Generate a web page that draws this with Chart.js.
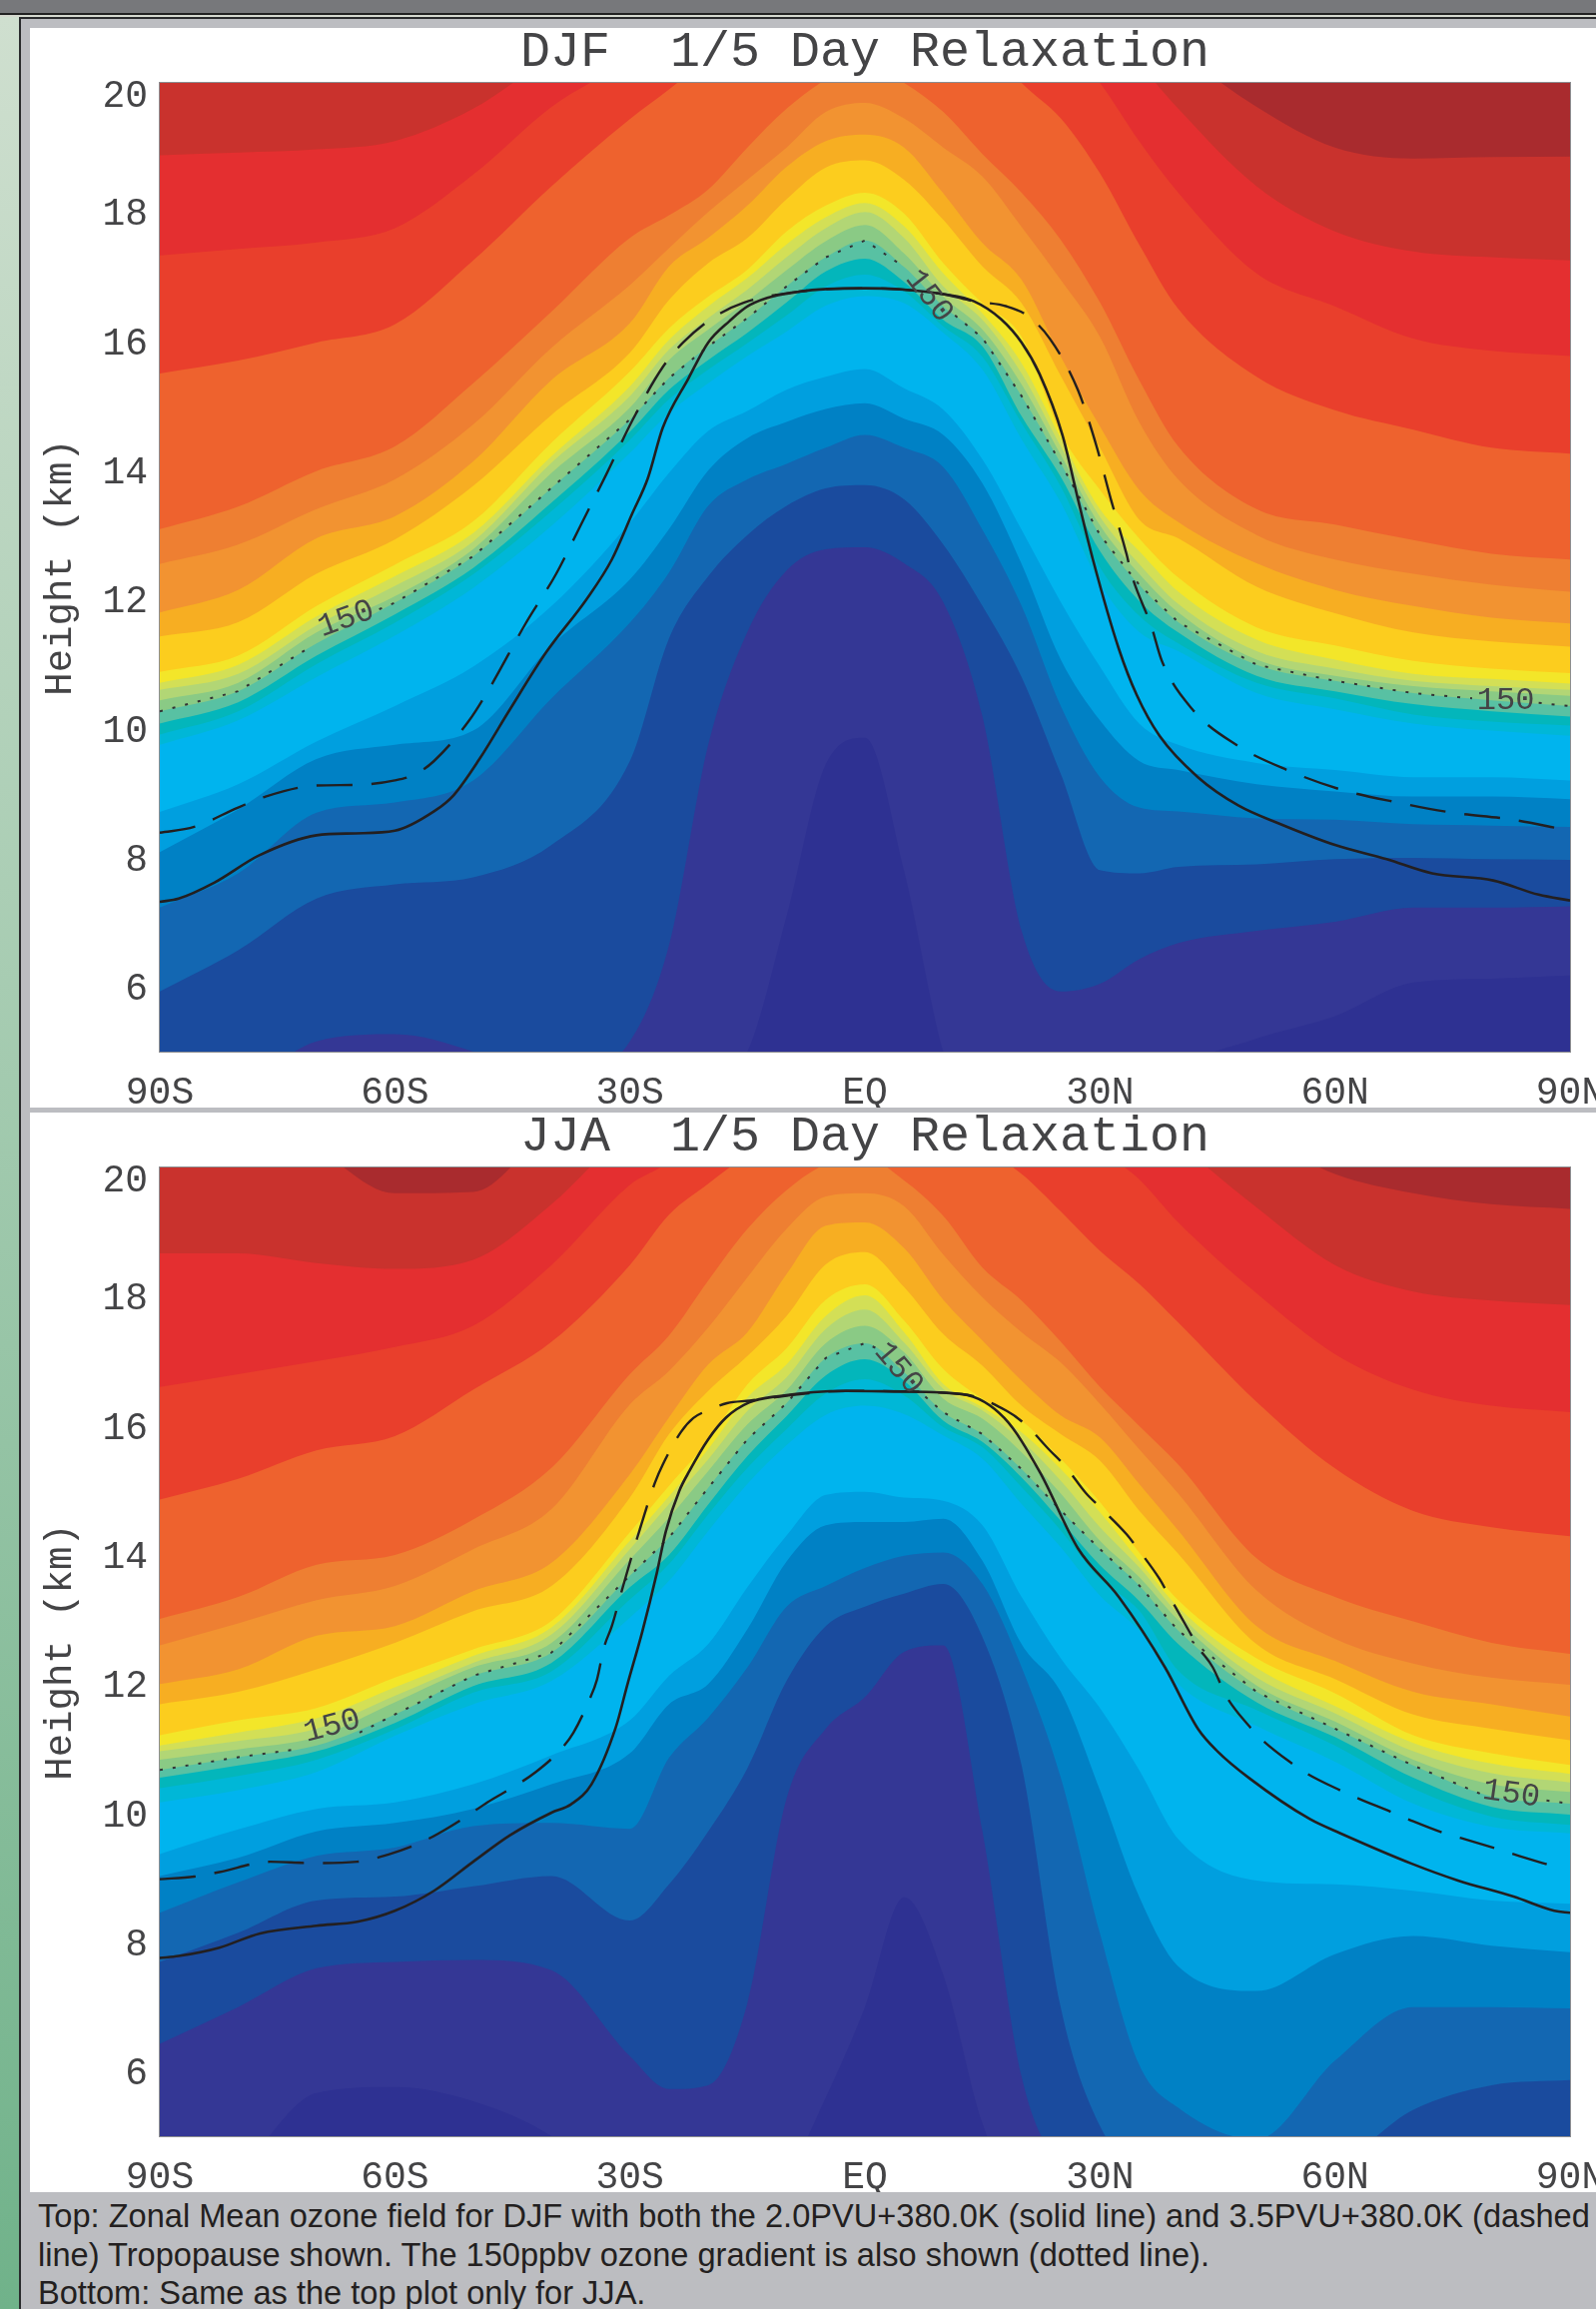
<!DOCTYPE html>
<html><head><meta charset="utf-8">
<script src="https://cdn.jsdelivr.net/npm/chart.js@4"></script>
<style>
html,body{margin:0;padding:0;width:1598px;height:2312px;overflow:hidden;background:#bcbdc1;}
#bar{position:absolute;left:0;top:0;width:1598px;height:13px;background:#77787b;}
#l1{position:absolute;left:0;top:13px;width:1598px;height:2px;background:#222;}
#l2{position:absolute;left:0;top:15px;width:1598px;height:2px;background:#d5d9cf;}
#l3{position:absolute;left:0;top:17px;width:1598px;height:2px;background:#2a2b2d;}
#strip{position:absolute;left:0;top:17px;width:19px;height:2295px;background:linear-gradient(#cfdfcf,#70b28a);}
#sl{position:absolute;left:19px;top:17px;width:2px;height:2295px;background:#2a2b2d;}
.panel{position:absolute;left:30px;width:1568px;background:#fff;}
canvas{position:absolute;left:0;}
.cap{position:absolute;left:38px;white-space:nowrap;font:32.6px "Liberation Sans",Arial,sans-serif;color:#231f20;}
</style></head><body>
<div id="bar"></div><div id="l1"></div><div id="l2"></div><div id="l3"></div><div id="strip"></div><div id="sl"></div>
<div class="panel" style="top:28px;height:1081px"></div>
<div class="panel" style="top:1114px;height:1081px"></div>
<canvas id="djf" width="1732" height="1081" style="top:28px"></canvas>
<canvas id="jja" width="1732" height="1081" style="top:1114px"></canvas>
<div class="cap" style="top:2200px">Top: Zonal Mean ozone field for DJF with both the 2.0PVU+380.0K (solid line) and 3.5PVU+380.0K (dashed</div>
<div class="cap" style="top:2239px">line) Tropopause shown. The 150ppbv ozone gradient is also shown (dotted line).</div>
<div class="cap" style="top:2277px">Bottom: Same as the top plot only for JJA.</div>
<script>
const lats=[-90,-80,-70,-60,-50,-40,-30,-25,-20,-15,-10,-5,0,5,10,15,20,25,30,35,40,50,60,70,80,90];
const xTickLabels={'-90':'90S','-60':'60S','-30':'30S','0':'EQ','30':'30N','60':'60N','90':'90N'};
const bandColors=['#2e3192','#343795','#1a4b9e','#1367b2','#0081c5','#009fdf','#00b4ee','#00b7d7','#03b6bb','#58c1a3','#8aca85','#b2d675','#d3df56','#f3e629','#fccd1e','#f7ae22','#f29331','#ee7f32','#ee622e','#e93f2c','#e42f30','#c9322d','#a92b2e'];

/* DJF: height (km) of the lower edge of each colour band, at each latitude */
const djf00=[4,4,4,4,4,4,4,4,4,4,4,4,4,4,4,4,4,4,4,4,4,4,4,4,4,4];
const djf01=[4,4,4,4,4,4,4,4,4.5,5,7.1,9.45,9.86,7.8,5,3.5,3.5,3.5,3.5,4,4.7,5.2,5.55,6.07,6.13,6.18];
const djf02=[4,4.4,5.16,5.27,5.0,4.5,5.16,6.65,9.75,11.5,12.45,12.78,12.81,12.56,11.96,10.19,6.87,5.93,6.05,6.43,6.68,6.87,7.01,7.23,7.23,7.25];
const djf03=[5.93,6.57,7.37,7.59,7.7,8.2,9.5,11.4,12.36,13.0,13.45,13.72,13.77,13.55,12.85,11.9,10.8,9.3,7.81,7.76,7.86,7.9,7.98,8.0,7.98,7.97];
const djf04=[7.23,7.76,8.7,8.86,9.2,10.47,11.64,12.42,13.45,13.86,14.1,14.35,14.55,14.35,14.05,13.08,11.9,10.35,9.25,8.78,8.72,8.61,8.59,8.52,8.5,8.48];
const djf05=[8.09,8.75,9.53,9.75,9.97,11.29,12.31,13.09,14.0,14.5,14.75,14.95,15.04,14.8,14.55,13.8,12.55,11.07,10.13,9.5,9.36,9.14,9.03,8.95,8.95,8.91];
const djf06=[8.71,9.14,9.8,10.35,10.96,11.9,13.19,13.96,14.61,14.92,15.25,15.45,15.57,15.27,14.94,14.17,13.08,11.96,10.96,10.08,9.75,9.47,9.36,9.25,9.25,9.2];
const djf07=[9.75,10.13,10.8,11.44,12.18,13.14,14.27,14.89,15.35,15.77,16.15,16.55,16.7,16.59,16.13,15.56,14.48,13.5,12.25,11.5,11.2,10.55,10.3,10.08,9.97,9.89];
const djf08=[9.91,10.27,11.0,11.64,12.39,13.37,14.47,15.1,15.56,15.97,16.4,16.85,17.03,16.77,16.23,15.76,14.73,13.75,12.5,11.75,11.32,10.71,10.47,10.22,10.11,10.05];
const djf09=[10.08,10.41,11.13,11.77,12.49,13.5,14.6,15.25,15.71,16.13,16.6,17.08,17.28,16.92,16.33,15.92,14.84,13.9,12.75,11.98,11.49,10.82,10.58,10.38,10.27,10.19];
const djf10=[10.27,10.58,11.32,11.95,12.67,13.73,14.79,15.43,15.92,16.36,16.85,17.3,17.56,17.15,16.54,16.05,15.15,14.11,13.0,12.23,11.65,10.99,10.74,10.55,10.44,10.35];
const djf11=[10.44,10.71,11.49,12.05,12.78,13.96,14.97,15.71,16.18,16.62,17.1,17.55,17.8,17.36,16.69,16.18,15.33,14.24,13.15,12.4,11.8,11.07,10.82,10.66,10.58,10.51];
const djf12=[10.6,10.85,11.6,12.21,12.9,14.12,15.15,15.87,16.36,16.8,17.3,17.75,18.0,17.6,16.85,16.33,15.5,14.37,13.28,12.55,11.93,11.2,10.93,10.74,10.66,10.6];
const djf13=[10.71,10.99,11.74,12.36,13.03,14.22,15.3,16.02,16.54,16.98,17.5,17.92,18.14,17.78,17.05,16.43,15.66,14.5,13.4,12.75,12.12,11.38,11.07,10.85,10.77,10.7];
const djf14=[10.88,11.13,11.9,12.54,13.21,14.43,15.53,16.2,16.69,17.11,17.7,18.1,18.3,17.98,17.21,16.59,16.07,14.58,13.7,12.95,12.34,11.57,11.29,11.05,10.93,10.86];
const djf15=[11.43,11.65,12.4,12.93,13.76,14.86,15.82,16.64,17.21,17.6,18.2,18.69,18.8,18.5,17.88,17.16,16.59,15.46,14.35,13.24,12.95,12.2,11.79,11.49,11.35,11.27];
const djf16=[11.8,12.15,12.95,13.29,14.14,15.4,16.28,17.16,17.6,18.1,18.7,19.1,19.2,19.0,18.29,17.52,16.95,15.76,14.68,13.7,13.2,12.56,12.15,11.9,11.72,11.63];
const djf17=[12.55,12.85,13.4,13.86,14.71,15.9,16.87,17.44,18.0,18.5,19.0,19.55,19.69,19.45,19.0,18.55,17.77,16.95,16.07,14.75,13.86,13.0,12.62,12.4,12.23,12.12];
const djf18=[13.09,13.44,13.99,14.37,15.35,16.46,17.6,17.95,18.35,19.0,19.6,20.05,20.3,20.0,19.55,18.9,18.3,17.57,16.6,15.4,14.37,13.4,13.16,12.92,12.71,12.62];
const djf19=[15.5,15.7,15.98,16.26,17.25,18.4,19.44,19.9,20.4,21,21.5,22,22,21.5,21.2,20.7,20,19.45,18.6,17.5,16.5,15.45,14.93,14.63,14.35,14.26];
const djf20=[17.33,17.43,17.53,17.75,18.58,19.63,20.4,21,22,22,22,22,22,22,22,22,21.5,20.7,20,19.1,18.3,17.05,16.54,16.04,15.85,15.77];
const djf21=[18.88,18.92,18.97,19.1,19.6,20.4,21,22,22,22,22,22,22,22,22,22,22,22,21,20.3,19.6,18.4,17.7,17.39,17.3,17.25];
const djf22=[21,21,21,21,21,21,22,22,22,22,22,22,22,22,22,22,22,22,22,21,20.5,19.63,19.0,18.83,18.85,18.86];
const djfBands=[djf00,djf01,djf02,djf03,djf04,djf05,djf06,djf07,djf08,djf09,djf10,djf11,djf12,djf13,djf14,djf15,djf16,djf17,djf18,djf19,djf20,djf21,djf22];

const djfSolidLat=[-90,-87.6,-83,-77.3,-70,-65,-60,-55,-52.5,-49.2,-45.3,-40.7,-35.5,-32.3,-29.7,-27.7,-25.8,-22.5,-20,-17.3,-14.7,-8.3,0,5,10,13.9,17.4,20,22.3,25.2,27.2,29.1,32.4,34.7,37.6,42.5,47.7,52.9,60,66.6,72.4,80.2,86,90];
const djfSolidH=[7.32,7.37,7.62,8.04,8.35,8.38,8.42,8.72,8.97,9.53,10.3,11.18,12.01,12.62,13.33,13.88,14.66,15.43,15.98,16.31,16.56,16.77,16.82,16.8,16.73,16.62,16.34,15.98,15.49,14.55,13.55,12.62,11.24,10.52,9.89,9.25,8.81,8.53,8.2,7.98,7.76,7.65,7.43,7.34];
const djfDashLat=[-90,-85.6,-80,-76.5,-70,-64.8,-60,-57.3,-55,-50.5,-47.9,-43.3,-39.4,-36.2,-33,-29.7,-25.8,-23.2,-19.3,-15.4,-8.3,0,10,13.9,18.1,20.7,23.6,27.2,29.5,31.4,33.4,34,36.6,37.9,41.8,47.4,53.9,60.7,67.9,75,82.2,89.3];
const djfDashH=[8.39,8.48,8.78,8.95,9.12,9.13,9.2,9.3,9.5,10.13,10.63,11.63,12.4,13.17,13.94,14.77,15.6,15.98,16.37,16.6,16.77,16.82,16.73,16.62,16.54,16.4,16.04,15.24,14.4,13.55,12.7,12.4,11.57,11.05,10.3,9.75,9.36,9.06,8.86,8.7,8.6,8.44];
const djfDotLat=[-90,-80,-71,-66,-62,-60,-50,-40,-30,-25,-20,-15,-10,-5,0,5,8,11.5,15,20,25,30,35,40,50,60,70,77.5,82,86,90];
const djfDotH=[10.27,10.58,11.25,null,11.85,11.95,12.67,13.73,14.79,15.43,15.92,16.36,16.85,17.3,17.56,17.15,null,16.4,16.05,15.15,14.11,13.0,12.23,11.65,10.99,10.74,10.55,10.47,null,10.4,10.35];
const djfLabelLat=[-66.2,8.2,81.8];
const djfLabelH=[11.7,16.7,10.44];
const djfLabelAngle=[-20,52,0];

/* JJA */
const jja00=[4,4,4,4,4,4,4,4,4,4,4,4,4,4,4,4,4,4,4,4,4,4,4,4,4,4];
const jja01=[4,4.5,5.67,5.76,5.54,5.0,4,4,4,4,4.4,5.6,7.0,8.7,7.5,5.2,4,4,4,4,4,4,4,4,4,4];
const jja02=[6.43,7.0,7.6,7.7,7.73,7.57,6.24,5.73,5.79,7.06,10.23,11.31,11.8,12.5,12.6,9.72,5.92,4.5,4,4,4,4,4,4,4,4];
const jja03=[7.7,8.15,8.65,8.71,8.87,9.03,8.34,8.9,9.72,10.7,12.05,12.9,13.2,13.4,13.55,12.73,10.74,6.99,5.16,4.5,4.5,4.5,4.6,5.41,5.79,5.87];
const jja04=[8.46,8.93,9.34,9.47,9.8,9.85,9.76,10.86,11.48,12.26,13.2,13.52,13.8,13.99,14.04,13.55,12.26,10.55,8.14,6.11,5.44,4.95,6.17,7.0,7.0,6.98];
const jja05=[9.03,9.31,9.72,9.85,10.07,10.45,10.93,11.69,12.0,12.85,13.9,14.46,14.51,14.51,14.56,13.91,12.62,11.88,10.36,8.71,7.63,7.25,7.82,8.1,7.95,7.85];
const jja06=[9.37,9.75,10.07,10.17,10.45,10.9,11.44,12.13,12.62,13.5,14.3,14.93,14.98,14.89,14.84,14.46,13.35,12.4,11.63,10.67,9.6,8.96,8.9,8.8,8.65,8.6];
const jja07=[10.17,10.36,10.64,11.2,11.69,12.05,13.03,13.6,14.37,15.1,15.7,16.17,16.31,16.18,15.85,15.49,14.79,14.12,13.37,12.83,12.0,11.35,10.8,10.15,9.79,9.69];
const jja08=[10.39,10.58,10.83,11.3,11.87,12.2,13.31,13.86,14.63,15.35,15.95,16.5,16.72,16.47,15.98,15.67,15.05,14.38,13.63,13.14,12.21,11.6,11.05,10.38,9.95,9.82];
const jja09=[10.55,10.74,10.96,11.4,11.97,12.33,13.5,14.0,14.78,15.53,16.15,16.78,17.03,16.7,16.08,15.75,15.2,14.53,13.84,13.29,12.62,11.72,11.18,10.55,10.1,9.98];
const jja10=[10.67,10.87,11.05,11.53,12.13,12.49,13.68,14.27,15.04,15.79,16.35,17.05,17.28,16.83,16.21,15.87,15.33,14.69,14.09,13.53,12.83,11.88,11.31,10.74,10.26,10.15];
const jja11=[10.83,10.99,11.18,11.72,12.26,12.64,13.93,14.58,15.3,16.02,16.55,17.28,17.55,17.14,16.42,16.11,15.59,14.95,14.22,13.66,12.99,11.98,11.42,10.83,10.45,10.33];
const jja12=[10.96,11.12,11.31,11.82,12.33,12.77,14.09,14.79,15.48,16.23,16.75,17.5,17.8,17.29,16.57,16.24,15.77,15.15,14.43,13.81,13.09,12.1,11.55,10.96,10.62,10.48];
const jja13=[11.05,11.25,11.47,11.95,12.44,12.88,14.22,14.91,15.64,16.44,16.95,17.7,18.02,17.45,16.65,16.29,15.9,15.33,14.66,13.91,13.19,12.25,11.66,11.09,10.77,10.61];
const jja14=[11.21,11.44,11.63,12.1,12.54,12.98,14.35,15.07,15.77,16.64,17.2,17.95,18.19,17.63,16.88,16.42,16.08,15.49,14.82,14.04,13.3,12.4,11.86,11.21,10.93,10.75];
const jja15=[11.69,11.88,12.23,12.64,13.13,13.52,14.89,15.87,16.54,17.08,17.7,18.5,18.69,18.15,17.42,16.93,16.31,15.87,15.46,14.69,14.02,12.62,12.08,11.53,11.31,11.13];
const jja16=[12.0,12.23,12.75,12.9,13.44,13.88,15.25,16.13,16.95,17.45,18.35,19.1,19.15,18.75,17.95,17.32,16.7,16.16,15.82,15.1,14.38,12.9,12.36,11.88,11.69,11.5];
const jja17=[12.6,12.94,13.3,13.52,14.09,14.71,16.33,16.85,17.52,18.3,19.05,19.55,19.6,19.4,18.65,17.99,17.45,16.98,16.34,15.64,14.95,13.45,12.7,12.32,12.1,11.99];
const jja18=[13.01,13.35,13.85,14.0,14.55,15.35,16.8,17.4,18.25,19.05,19.65,20.05,20.15,19.8,19.25,18.45,17.94,17.3,16.6,16.0,15.4,13.95,13.35,12.97,12.64,12.47];
const jja19=[14.86,15.18,15.62,15.84,16.56,17.3,18.49,19.27,19.75,20.2,20.6,21,21,21,20.6,20.3,19.9,19.32,18.71,18.2,17.6,16.37,15.34,14.68,14.43,14.29];
const jja20=[16.6,16.8,17.0,17.22,17.55,18.49,19.73,20.1,20.8,21,21,21,21,21,21,21,21,21,20.3,19.82,19.15,18.05,17.11,16.56,16.31,16.21];
const jja21=[18.67,18.67,18.52,18.43,18.57,19.43,20.6,21,21,21,21,21,21,21,21,21,21,21,21,21,20.4,19.38,18.49,18.08,17.94,17.87];
const jja22=[21,21,20.3,19.6,19.62,20.6,21,21,21,21,21,21,21,21,21,21,21,21,21,21,21,20.5,19.9,19.6,19.43,19.36];
const jjaBands=[jja00,jja01,jja02,jja03,jja04,jja05,jja06,jja07,jja08,jja09,jja10,jja11,jja12,jja13,jja14,jja15,jja16,jja17,jja18,jja19,jja20,jja21,jja22];

const jjaSolidLat=[-90,-87.6,-82.4,-77.2,-70,-64.8,-60,-55,-50,-45.3,-40,-37.5,-34.9,-31.8,-30.3,-28.4,-26.6,-25.4,-23.7,-22.4,-20,-17.7,-14.8,-11,-2.4,4.7,12.4,17.8,22.3,27.2,32.4,38.3,42.5,45,49,56.8,60.7,69.8,75.7,82.8,88,90];
const jjaSolidH=[7.76,7.79,7.92,8.14,8.26,8.32,8.49,8.8,9.25,9.66,10.01,10.14,10.45,11.33,12.0,12.82,13.7,14.37,14.99,15.3,15.79,16.13,16.36,16.46,16.54,16.53,16.49,16.12,15.29,14.1,13.35,12.26,11.31,10.96,10.55,9.91,9.69,9.22,8.96,8.71,8.49,8.46];
const jjaDashLat=[-90,-85.6,-82.4,-75.9,-70.7,-64.8,-60.9,-57,-54.4,-50.5,-48.2,-44.7,-42,-38.8,-37.2,-35.2,-34.2,-33.3,-32.3,-31,-29,-26.8,-25.8,-23.5,-21.9,-20,-17.6,-14.7,-8.3,-2.4,12.4,18.1,20.4,23.6,25.6,28.2,30.1,33.4,35,37.6,38.9,41.2,42.5,44.4,46.1,48.9,50.6,54.3,56.5,60.6,63,67.2,69.7,74,76.6,80.9,83.5,87.9];
const jjaDashH=[8.98,9.02,9.09,9.25,9.23,9.25,9.36,9.53,9.69,9.98,10.17,10.42,10.64,10.99,11.25,11.75,12.07,12.57,12.9,13.46,14.29,15.12,15.4,15.9,16.12,16.24,16.35,16.39,16.49,16.54,16.49,16.23,16.03,15.62,15.37,14.96,14.73,14.32,14.07,13.63,13.35,12.86,12.58,12.26,11.82,11.37,11.15,10.79,10.61,10.36,10.23,10.02,9.89,9.69,9.6,9.44,9.34,9.18];
const jjaDotLat=[-90,-80,-72,-68,-64.5,-60,-50,-40,-30,-25,-20,-15,-10,-5,0,1.5,4.3,7.7,10,15,20,25,30,35,40,50,60,70,79,82.5,87,90];
const jjaDotH=[10.67,10.87,11.0,null,11.25,11.53,12.13,12.49,13.68,14.27,15.04,15.79,16.35,17.05,17.28,17.2,null,16.45,16.21,15.87,15.33,14.69,14.09,13.53,12.83,11.88,11.31,10.74,10.28,null,10.2,10.15];
const jjaLabelLat=[-68,4.3,82.5];
const jjaLabelH=[11.35,16.89,10.3];
const jjaLabelAngle=[-15,50,8];

const MONO='"Liberation Mono","DejaVu Sans Mono",monospace';
const INK='#444446';
function pts(xs,ys){return xs.map((x,i)=>({x,y:ys[i]}));}
function build(id,title,bands,sLat,sH,dLat,dH,oLat,oH,lLat,lH,lA){
  const datasets=[];
  bands.forEach((vals,k)=>datasets.push({type:'line',data:pts(lats,vals),borderWidth:0,pointRadius:0,
    backgroundColor:bandColors[k],borderColor:bandColors[k],fill:'end',cubicInterpolationMode:'monotone',order:100-k}));
  datasets.push({type:'line',data:pts(oLat,oH),borderColor:'#333335',borderWidth:2,borderDash:[3,10],pointRadius:0,fill:false,order:3,spanGaps:false});
  datasets.push({type:'line',data:pts(dLat,dH),borderColor:'#231f20',borderWidth:2.4,borderDash:[36,19],pointRadius:0,fill:false,cubicInterpolationMode:'monotone',order:2});
  datasets.push({type:'line',data:pts(sLat,sH),borderColor:'#231f20',borderWidth:2.6,pointRadius:0,fill:false,cubicInterpolationMode:'monotone',order:1});
  const deco={id:'deco',
    afterLayout(c){const a=c.chartArea;c.titleBlock.left=a.left;c.titleBlock.right=a.right;},
    beforeDraw(c){c.scales.y.getLabelItems().forEach(it=>{
      if(it._moved)return;it._moved=true;
      it.options.translation[1]+=(it.label==='20')?14:3;});},
    afterDraw(c){const a=c.chartArea,g=c.ctx,X=c.scales.x,Y=c.scales.y;
      g.save();g.strokeStyle='#8c8d90';g.lineWidth=1;
      g.strokeRect(a.left-.5,a.top-.5,a.right-a.left+1,a.bottom-a.top+1);
      g.font='32px '+MONO;g.fillStyle=INK;g.textAlign='center';g.textBaseline='middle';
      lLat.forEach((la,i)=>{g.save();g.translate(X.getPixelForValue(la),Y.getPixelForValue(lH[i]));
        g.rotate(lA[i]*Math.PI/180);g.fillText('150',0,0);g.restore();});
      g.restore();}};
  return new Chart(document.getElementById(id),{type:'line',data:{datasets},plugins:[deco],
    options:{responsive:false,animation:false,devicePixelRatio:1,
      layout:{padding:{left:0,right:160,top:0,bottom:0}},
      plugins:{legend:{display:false},tooltip:{enabled:false},
        title:{display:true,text:title,color:INK,font:{family:MONO,size:50,weight:'normal',lineHeight:1},padding:{top:0,bottom:5}}},
      scales:{
        x:{type:'linear',min:-90,max:90,grid:{display:false,drawTicks:false},border:{display:false},
          afterFit(s){s.height=56;},
          ticks:{stepSize:30,autoSkip:false,maxRotation:0,color:INK,padding:19,font:{family:MONO,size:38},callback:v=>xTickLabels[String(v)]||''}},
        y:{type:'linear',min:5,max:20,grid:{display:false,drawTicks:false},border:{display:false},
          afterFit(s){s.width=160;},
          title:{display:true,text:'Height (km)',color:INK,font:{family:MONO,size:39,weight:'normal',lineHeight:1},padding:{top:41,bottom:0}},
          ticks:{stepSize:2,includeBounds:false,color:INK,padding:12,font:{family:MONO,size:38}}}
      }}});
}
build('djf','DJF  1/5 Day Relaxation',djfBands,djfSolidLat,djfSolidH,djfDashLat,djfDashH,djfDotLat,djfDotH,djfLabelLat,djfLabelH,djfLabelAngle);
build('jja','JJA  1/5 Day Relaxation',jjaBands,jjaSolidLat,jjaSolidH,jjaDashLat,jjaDashH,jjaDotLat,jjaDotH,jjaLabelLat,jjaLabelH,jjaLabelAngle);
</script>
</body></html>
